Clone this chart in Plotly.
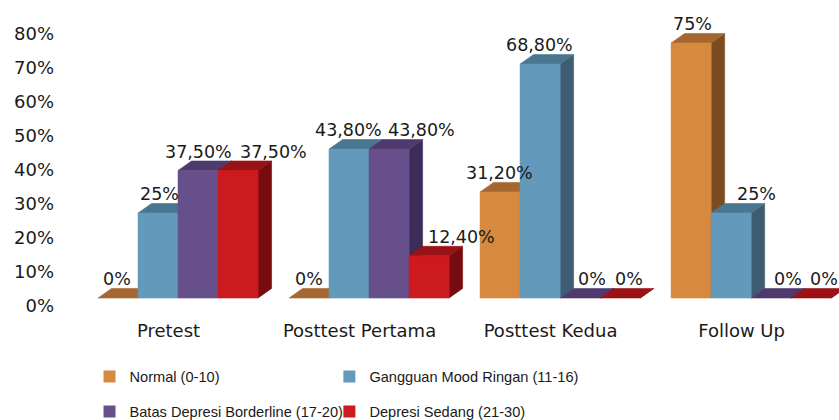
import plotly.graph_objects as go

# ---------------- data ----------------
categories = ["Pretest", "Posttest Pertama", "Posttest Kedua", "Follow Up"]
series_names = [
    "Normal (0-10)",
    "Gangguan Mood Ringan (11-16)",
    "Batas Depresi Borderline (17-20)",
    "Depresi Sedang (21-30)",
]
normal = [0, 0, 31.2, 75]
ringan = [25, 43.8, 68.8, 25]
borderline = [37.5, 43.8, 0, 0]
sedang = [37.5, 12.4, 0, 0]
y_ticks = [0, 10, 20, 30, 40, 50, 60, 70, 80]

series_values = [normal, ringan, borderline, sedang]

# ---------------- styles ----------------
front_colors = ["#D6893F", "#6399BA", "#674F8C", "#CC1A1E"]
top_colors = ["#A5672F", "#4B7690", "#4E3A6D", "#9A1116"]
side_colors = ["#7C4C21", "#3F5D72", "#3E2C58", "#760C10"]
label_xshift = [  # px, per series per category
    [-1, 0, -1, 1],
    [1, -1, -1, 25],
    [0, 32, 12, 17],
    [35, 32, 9, 13],
]
legend_pos = [(0.0379, -0.1465), (0.3458, -0.1465), (0.0379, -0.2595), (0.3458, -0.2595)]
BAR_W = 0.2094   # bar width in category units
DX = 0.0707      # 3D depth offset (x units)
DY = 2.8         # 3D depth offset (y units)
TICK_SHIFT = 2.35
CAT_LABEL_SHIFT = -0.05
TXT = "#1a1a1a"


def fmt(v):
    if float(v).is_integer():
        return f"{int(v)}%"
    return f"{v:.2f}".replace(".", ",") + "%"


def polys(shapes):
    X, Y = [], []
    for pts in shapes:
        for a, b in pts:
            X.append(a)
            Y.append(b)
        X.append(pts[0][0])
        Y.append(pts[0][1])
        X.append(None)
        Y.append(None)
    return X, Y


fig = go.Figure()
xs = list(range(len(categories)))
legend_ids = ["legend", "legend2", "legend3", "legend4"]

# legend / base bars
for j, (name, vals) in enumerate(zip(series_names, series_values)):
    off = (j - 2) * BAR_W
    fig.add_trace(go.Bar(
        x=xs, y=vals, width=BAR_W, offset=off, name=name,
        marker=dict(color=front_colors[j], line=dict(width=0)),
        legend=legend_ids[j], hoverinfo="skip",
    ))

# 3D faces: sides, then tops, then fronts
for layer in ["side", "top", "front"]:
    for j, vals in enumerate(series_values):
        off = (j - 2) * BAR_W
        shapes = []
        for i, v in enumerate(vals):
            L = xs[i] + off
            R = L + BAR_W
            if layer == "side":
                shapes.append([(R, 0), (R + DX, DY), (R + DX, v + DY), (R, v)])
            elif layer == "top":
                shapes.append([(L, v), (R, v), (R + DX, v + DY), (L + DX, v + DY)])
            elif v > 0:
                shapes.append([(L, 0), (R, 0), (R, v), (L, v)])
        if not shapes:
            continue
        col = {"side": side_colors, "top": top_colors, "front": front_colors}[layer][j]
        X, Y = polys(shapes)
        fig.add_trace(go.Scatter(
            x=X, y=Y, mode="lines", fill="toself", fillcolor=col,
            line=dict(color=col, width=0.6), showlegend=False, hoverinfo="skip",
        ))

# data labels
for j, vals in enumerate(series_values):
    off = (j - 2) * BAR_W
    for i, v in enumerate(vals):
        fig.add_annotation(
            x=xs[i] + off + BAR_W / 2, y=v, xref="x", yref="y",
            text=fmt(v), showarrow=False, yanchor="middle",
            xshift=label_xshift[j][i], yshift=19,
            font=dict(family="DejaVu Sans", size=17.5, color=TXT),
        )

legend_font = dict(family="Liberation Sans", size=14.6, color=TXT)
legends = {}
for lid, (lx, ly) in zip(legend_ids, legend_pos):
    legends[lid] = dict(
        x=lx, y=ly, xanchor="left", yanchor="top", font=legend_font,
        bgcolor="rgba(0,0,0,0)",
    )

fig.update_layout(
    width=839, height=420,
    margin=dict(l=60, r=0, t=5, b=105, autoexpand=False),
    paper_bgcolor="white", plot_bgcolor="white",
    barmode="overlay",
    showlegend=True,
    xaxis=dict(
        range=[-0.618, 3.46], automargin=False,
        tickvals=[x + CAT_LABEL_SHIFT for x in xs], ticktext=categories,
        showgrid=False, zeroline=False, showline=False, ticks="",
        ticklabelstandoff=3,
        tickfont=dict(family="DejaVu Sans", size=18, color=TXT),
    ),
    yaxis=dict(
        range=[-5, 86.18], automargin=False,
        tickvals=[t - TICK_SHIFT for t in y_ticks],
        ticktext=[f"{t}%" for t in y_ticks],
        showgrid=False, zeroline=False, showline=False, ticks="",
        ticklabelstandoff=5,
        tickfont=dict(family="DejaVu Sans", size=18, color=TXT),
    ),
    **legends,
)

fig.write_html(
    "out.html",
    config={"displayModeBar": False},
    post_script="document.body.style.margin='0';document.body.style.overflow='hidden';",
)
